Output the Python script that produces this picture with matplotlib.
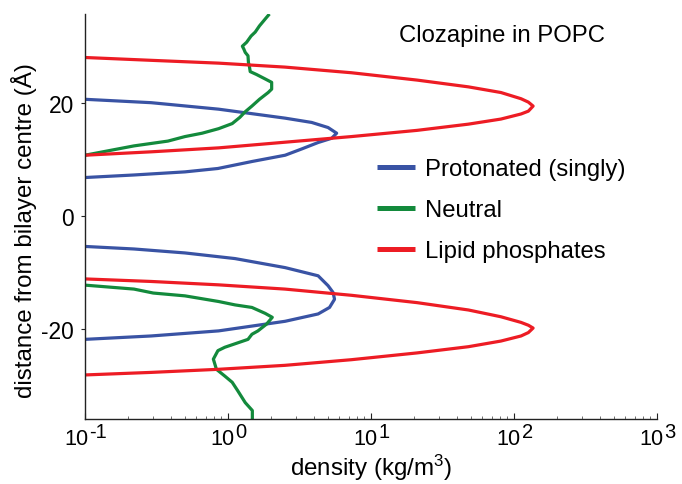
import numpy as np
import matplotlib
matplotlib.use("Agg")
import matplotlib.pyplot as plt
from matplotlib.ticker import LogLocator, FixedLocator, NullLocator, NullFormatter

plt.rcParams['font.family'] = ['Liberation Sans', 'DejaVu Sans']
plt.rcParams['mathtext.fontset'] = 'custom'
plt.rcParams['mathtext.rm'] = 'Liberation Sans'
plt.rcParams['mathtext.it'] = 'Liberation Sans:italic'
plt.rcParams['mathtext.bf'] = 'Liberation Sans:bold'
plt.rcParams['axes.unicode_minus'] = False

# Protonated clozapine density profiles (distance in Å, density in kg/m^3)
prot_upper_z = [20.6, 20.0, 18.85, 17.26, 16.5, 15.6, 14.6, 13.7, 12.95, 11.8, 10.7, 9.6, 8.35, 7.75, 7.2, 6.75]
prot_upper_rho = [0.10, 0.29, 0.86, 2.51, 3.85, 5.01, 5.75, 5.31, 4.27, 3.27, 2.51, 1.48, 0.85, 0.50, 0.22, 0.10]
prot_lower_z = [-5.45, -5.9, -6.6, -7.6, -9.2, -10.65, -12.4, -13.6, -14.8, -16.25, -17.4, -18.7, -20.4, -21.3, -21.9]
prot_lower_rho = [0.10, 0.22, 0.50, 1.12, 2.51, 4.27, 5.01, 5.43, 5.56, 5.13, 4.27, 2.51, 0.86, 0.29, 0.10]

# Neutral clozapine
neut_upper_z = [10.7, 12.35, 13.2, 14.0, 14.6, 15.4, 16.3, 17.4, 18.4, 19.4, 20.6, 21.8, 22.4, 23.6, 24.2, 25.0,
                25.5, 26.5, 27.1, 28.3, 28.9, 29.5, 30.0, 30.7, 31.8, 32.5, 33.6, 35.1, 35.7]
neut_upper_rho = [0.10, 0.22, 0.38, 0.50, 0.66, 0.86, 1.07, 1.21, 1.32, 1.47, 1.66, 1.91, 2.02, 2.02, 1.82, 1.58,
                  1.43, 1.41, 1.39, 1.38, 1.32, 1.29, 1.26, 1.35, 1.45, 1.55, 1.66, 1.86, 1.95]
neut_lower_z = [-12.3, -13.0, -13.7, -14.2, -15.2, -15.8, -16.25, -17.3, -18.0, -19.2, -20.4, -21.0, -21.9, -23.3,
                -23.9, -25.4, -27.2, -28.4, -29.5, -31.0, -33.1, -34.5, -36.0]
neut_lower_rho = [0.10, 0.22, 0.30, 0.50, 0.86, 1.12, 1.47, 1.82, 2.04, 1.86, 1.62, 1.47, 1.38, 0.95,
                  0.85, 0.79, 0.83, 0.95, 1.07, 1.17, 1.32, 1.48, 1.48]

# Lipid phosphate groups
phos_upper_z = [28.0, 27.5, 27.0, 26.3, 25.3, 24.0, 22.8, 21.8, 20.7, 20.1, 19.4, 18.5, 18.0, 17.1, 16.2, 15.1,
                14.0, 13.0, 12.0, 11.3, 10.7]
phos_upper_rho = [0.10, 0.29, 0.86, 2.5, 7.3, 21, 48, 81, 112, 126, 136, 126, 112, 81, 48, 21,
                  7.3, 2.5, 0.86, 0.29, 0.10]
phos_lower_z = [-11.2, -11.65, -12.25, -13.0, -14.1, -15.4, -16.7, -17.9, -18.9, -19.4, -19.9, -20.7, -21.3, -22.2,
                -23.2, -24.3, -25.5, -26.5, -27.2, -27.75, -28.2]
phos_lower_rho = [0.10, 0.29, 0.86, 2.5, 7.3, 21, 48, 81, 112, 126, 136, 126, 112, 81,
                  48, 21, 7.3, 2.5, 0.86, 0.29, 0.10]

labels = ["Protonated (singly)", "Neutral", "Lipid phosphates"]
colors = ["#3953a4", "#138a3c", "#ed1c24"]
x_ticks = [0.1, 1, 10, 100, 1000]
y_ticks = [-20, 0, 20]

W, H = 682, 485
fig = plt.figure(figsize=(W / 100, H / 100), dpi=100)
ax = fig.add_axes([85 / W, 1 - 420 / H, (657 - 85) / W, (420 - 15) / H])

lw = 2.3
series = [
    (prot_upper_rho, prot_upper_z, prot_lower_rho, prot_lower_z),
    (neut_upper_rho, neut_upper_z, neut_lower_rho, neut_lower_z),
    (phos_upper_rho, phos_upper_z, phos_lower_rho, phos_lower_z),
]
for (ur, uz, lr, lz), c, lab in zip(series, colors, labels):
    ax.plot(ur, uz, color=c, lw=lw, label=lab, solid_joinstyle='round', solid_capstyle='butt')
    ax.plot(lr, lz, color=c, lw=lw, solid_joinstyle='round', solid_capstyle='butt')

ax.set_xscale('log')
ax.set_xlim(0.1, 1000)
ax.set_ylim(-36, 35.7)
ax.xaxis.set_major_locator(FixedLocator(x_ticks))
ax.xaxis.set_minor_locator(LogLocator(base=10, subs=np.arange(2, 10)))
ax.xaxis.set_major_formatter(NullFormatter())
ax.xaxis.set_minor_formatter(NullFormatter())
ax.yaxis.set_major_locator(FixedLocator(y_ticks))
ax.yaxis.set_minor_locator(NullLocator())

for s in ['top', 'right']:
    ax.spines[s].set_visible(False)
for s in ['left', 'bottom']:
    ax.spines[s].set_linewidth(1.0)
    ax.spines[s].set_color('#222222')

ax.tick_params(axis='x', which='major', direction='in', length=4, width=0.8, colors='#222222')
ax.tick_params(axis='x', which='minor', direction='in', length=2.5, width=0.6, colors='#555555')
ax.tick_params(axis='y', which='major', direction='out', length=3, width=0.8, labelsize=16.4, pad=5,
               colors='#222222', labelcolor='black')

# decade labels: "10" with a raised, nearly full-size exponent
tick_fs = 15.6
exp_fs = 14.5
for v in x_ticks:
    e = str(int(round(np.log10(v))))
    base_w = 1.112 * tick_fs
    exp_w = (0.333 * ('-' in e) + 0.556 * len(e.strip('-'))) * exp_fs
    shift = -(base_w + exp_w) / 2 + base_w
    ax.annotate("10", xy=(v, 0), xycoords=('data', 'axes fraction'), xytext=(shift, -6.8),
                textcoords='offset points', ha='right', va='top', fontsize=tick_fs, annotation_clip=False)
    ax.annotate(e, xy=(v, 0), xycoords=('data', 'axes fraction'), xytext=(shift + 0.8, -1.8),
                textcoords='offset points', ha='left', va='top', fontsize=exp_fs, annotation_clip=False)

fig.text(371 / W, 1 - 476 / H, "density (kg/m$^3$)", fontsize=17.4, ha='center', va='baseline')
fig.text(24 / W, 1 - 231 / H, "distance from bilayer centre (Å)", fontsize=17.4, ha='center', va='center',
         rotation=90)

fig.text(502 / W, 1 - 36 / H, "Clozapine in POPC", fontsize=17.2, ha='center', va='center')

leg = ax.legend(loc='upper left', bbox_to_anchor=(377 / W, 1 - 159 / H),
                bbox_transform=fig.transFigure, frameon=False, fontsize=17.2,
                handlelength=1.6, handletextpad=0.42, labelspacing=0.8, borderpad=0, borderaxespad=0)
for h in leg.get_lines():
    h.set_linewidth(3.6)

fig.savefig("out.png", dpi=100)
